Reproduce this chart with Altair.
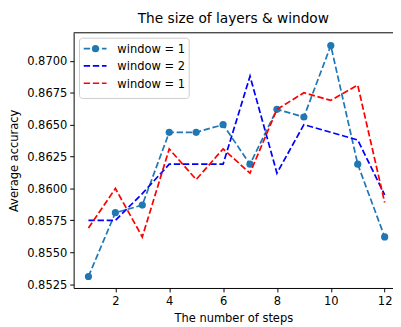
import altair as alt
import pandas as pd

steps = [1, 2, 3, 4, 5, 6, 7, 8, 9, 10, 11, 12]
series_keys = ["s1", "s2", "s3"]
series_labels = ["window = 1", "window = 2", "window = 1"]
series_colors = ["#1f77b4", "#0000ff", "#ff0000"]

acc_s1 = [0.8531, 0.8581, 0.8587, 0.8644, 0.8644, 0.8650, 0.8619, 0.8662, 0.8656, 0.8712, 0.8619, 0.8562]
acc_s2 = [0.8575, 0.8575, 0.8596, 0.8619, 0.8619, 0.8619, 0.8688, 0.8612, 0.8650, 0.8644, 0.8638, 0.8595]
acc_s3 = [0.8569, 0.8600, 0.8562, 0.8631, 0.8607, 0.8631, 0.8612, 0.8662, 0.8675, 0.8669, 0.8681, 0.8589]

y_ticks = [0.8525, 0.8550, 0.8575, 0.8600, 0.8625, 0.8650, 0.8675, 0.8700]
x_ticks = [2, 4, 6, 8, 10, 12]

rows = []
for key, vals in zip(series_keys, [acc_s1, acc_s2, acc_s3]):
    for s, v in zip(steps, vals):
        rows.append({"step": s, "acc": v, "key": key})
df = pd.DataFrame(rows)

FONT = "DejaVu Sans"
FS = 11.7
W, H = 326, 260.5
DASH = [6.5, 2.8]
MSIZE = 54

x_enc = alt.X(
    "step:Q",
    scale=alt.Scale(domain=[0.45, 12.31], nice=False, zero=False),
    axis=alt.Axis(values=x_ticks, format="d", title="The number of steps", grid=False,
                  labelFontSize=FS, titleFontSize=FS, titleFontWeight="normal",
                  labelColor="black", titleColor="black", tickColor="black", domainColor="black",
                  tickSize=4, labelPadding=4, titlePadding=6, domainWidth=1, tickWidth=1,
                  labelFlush=False),
)
y_enc = alt.Y(
    "acc:Q",
    scale=alt.Scale(domain=[0.8522, 0.8722], nice=False, zero=False),
    axis=alt.Axis(values=y_ticks, format=".4f", title="Average accuracy", grid=False,
                  labelFontSize=FS, titleFontSize=FS, titleFontWeight="normal",
                  labelColor="black", titleColor="black", tickColor="black", domainColor="black",
                  tickSize=4, labelPadding=3, titlePadding=7, domainWidth=1, tickWidth=1,
                  labelFlush=False),
)
color_enc = alt.Color("key:N", scale=alt.Scale(domain=series_keys, range=series_colors), legend=None)

base = alt.Chart(df).encode(x=x_enc, y=y_enc, color=color_enc)

line1 = base.transform_filter(alt.datum.key == "s1").mark_line(strokeDash=DASH, strokeWidth=1.75)
pts1 = base.transform_filter(alt.datum.key == "s1").mark_circle(size=MSIZE, opacity=1)
line2 = base.transform_filter(alt.datum.key == "s2").mark_line(strokeDash=DASH, strokeWidth=1.75)
line3 = base.transform_filter(alt.datum.key == "s3").mark_line(strokeDash=DASH, strokeWidth=1.75)

top_spine = alt.Chart(pd.DataFrame({"a": [0]})).mark_rule(color="black", strokeWidth=1).encode(
    x=alt.value(0), x2=alt.value(W), y=alt.value(0)
)

# legend (decoration)
leg_df = pd.DataFrame({"a": [0]})
legend_box = alt.Chart(leg_df).mark_rect(
    fill="white", fillOpacity=0.8, stroke="#cccccc", strokeWidth=1, cornerRadius=3
).encode(x=alt.value(6), x2=alt.value(118), y=alt.value(5.5), y2=alt.value(67))

row_y = [16.2, 33.8, 51.5]
legend_layers = [legend_box]
for i in range(3):
    legend_layers.append(
        alt.Chart(leg_df).mark_rule(color=series_colors[i], strokeWidth=1.75, strokeDash=DASH).encode(
            x=alt.value(10.3), x2=alt.value(33.6), y=alt.value(row_y[i])
        )
    )
    legend_layers.append(
        alt.Chart(pd.DataFrame({"t": [series_labels[i]]})).mark_text(
            align="left", baseline="middle", fontSize=FS, font=FONT, color="black"
        ).encode(text="t:N", x=alt.value(44.6), y=alt.value(row_y[i] + 0.5))
    )
legend_layers.append(
    alt.Chart(leg_df).mark_circle(size=MSIZE, opacity=1, color=series_colors[0]).encode(
        x=alt.value(22.3), y=alt.value(row_y[0])
    )
)

chart = alt.layer(line1, pts1, line2, line3, top_spine, *legend_layers).properties(
    width=W,
    height=H,
    title=alt.Title("The size of layers & window", fontSize=14, fontWeight="normal",
                    font=FONT, color="black", offset=7),
    autosize=alt.AutoSizeParams(type="none"),
    padding={"left": 67, "top": 22, "right": 0, "bottom": 36},
).configure(font=FONT).configure_view(stroke=None)

chart.save("out.html", embed_options={"renderer": "svg", "actions": False})
